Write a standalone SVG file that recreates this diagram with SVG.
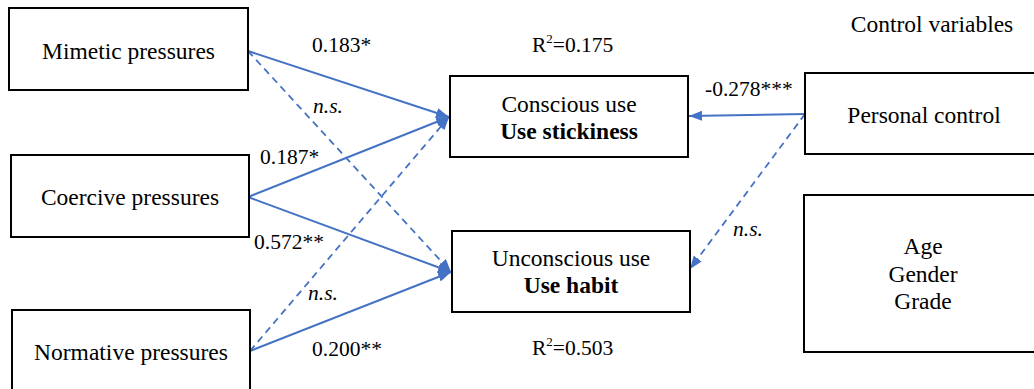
<svg xmlns="http://www.w3.org/2000/svg" width="1034" height="389" viewBox="0 0 1034 389">
<style>
.box{fill:#fff;stroke:#000;stroke-width:2}
.t{font-size:23.5px;fill:#000;text-anchor:middle}
.b{font-weight:bold}
.l{font-size:21.5px;fill:#000}
.i{font-style:italic}
.c{fill:none;stroke:#4472C4;stroke-width:2}
.d{fill:none;stroke:#4472C4;stroke-width:1.8;stroke-dasharray:7,5}
</style>
<defs>
<marker id="ah" markerUnits="userSpaceOnUse" markerWidth="14" markerHeight="12" refX="13" refY="5" orient="auto">
<path d="M0,0 L13,5 L0,10 z" fill="#4472C4"/>
</marker>
</defs>
<rect width="1034" height="389" fill="#fff"/>
<g id="connectors">
<line class="c" x1="248" y1="51" x2="449" y2="117" marker-end="url(#ah)"/>
<line class="d" x1="248" y1="51" x2="451" y2="272" marker-end="url(#ah)"/>
<line class="c" x1="248" y1="197" x2="449" y2="117" marker-end="url(#ah)"/>
<line class="c" x1="248" y1="197" x2="451" y2="272" marker-end="url(#ah)"/>
<line class="d" x1="250" y1="351" x2="449" y2="117" marker-end="url(#ah)"/>
<line class="c" x1="250" y1="351" x2="451" y2="272" marker-end="url(#ah)"/>
<line class="c" x1="805" y1="114" x2="689" y2="116" marker-end="url(#ah)"/>
<line class="d" x1="805" y1="114" x2="690" y2="269" marker-end="url(#ah)"/>
</g>
<g font-family="Liberation Serif, DejaVu Serif, serif">
<g id="labels">
<text class="l" x="312" y="52">0.183*</text>
<text class="l i" x="313" y="113">n.s.</text>
<text class="l" x="260" y="164">0.187*</text>
<text class="l" x="254" y="249">0.572**</text>
<text class="l i" x="308" y="300">n.s.</text>
<text class="l" x="312" y="356">0.200**</text>
<text class="l" x="705" y="96">-0.278***</text>
<text class="l i" x="733" y="236">n.s.</text>
<text class="l" x="532" y="52">R<tspan font-size="13" dy="-9">2</tspan><tspan dy="9">=0.175</tspan></text>
<text class="l" x="532" y="355">R<tspan font-size="13" dy="-9">2</tspan><tspan dy="9">=0.503</tspan></text>
<text class="t" x="932" y="32">Control variables</text>
</g>
<g id="mimetic">
<rect class="box" x="9" y="8" width="239" height="82"/>
<text class="t" x="128.5" y="59">Mimetic pressures</text>
</g>
<g id="coercive">
<rect class="box" x="11" y="155" width="238" height="82"/>
<text class="t" x="130" y="205">Coercive pressures</text>
</g>
<g id="normative">
<rect class="box" x="12" y="310" width="238" height="90"/>
<text class="t" x="131" y="360">Normative pressures</text>
</g>
<g id="conscious">
<rect class="box" x="450" y="76" width="238" height="81"/>
<text class="t" x="569" y="112">Conscious use</text>
<text class="t b" x="569" y="139">Use stickiness</text>
</g>
<g id="unconscious">
<rect class="box" x="452" y="231" width="238" height="81"/>
<text class="t" x="571" y="266">Unconscious use</text>
<text class="t b" x="571" y="293">Use habit</text>
</g>
<g id="personal">
<rect class="box" x="805" y="73" width="240" height="81"/>
<text class="t" x="924" y="123">Personal control</text>
</g>
<g id="controls">
<rect class="box" x="804" y="195" width="240" height="157"/>
<text class="t" x="923" y="254">Age</text>
<text class="t" x="923" y="282">Gender</text>
<text class="t" x="923" y="309">Grade</text>
</g>
</g>
</svg>
